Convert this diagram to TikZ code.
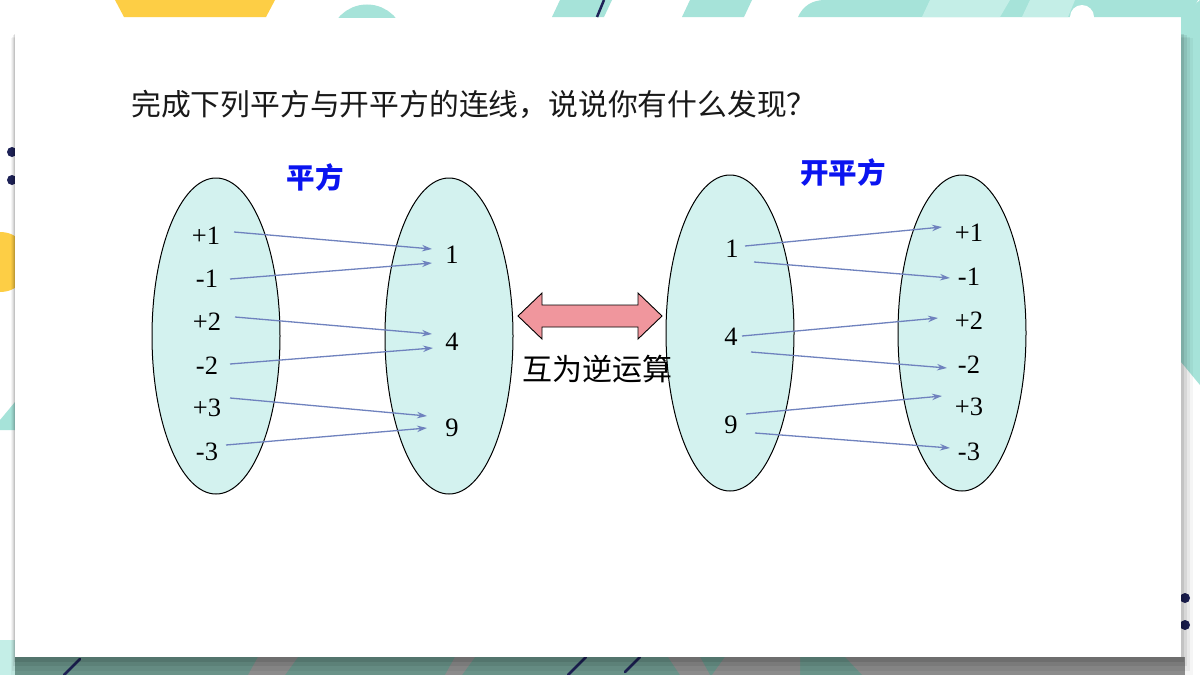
\documentclass[tikz,border=0pt]{standalone}
\usepackage{fontspec}
\setmainfont{Liberation Serif}
\newfontfamily\cjk{Noto Sans CJK SC}
\usetikzlibrary{arrows.meta,shapes.geometric}
\definecolor{teal1}{HTML}{A6E3D9}
\definecolor{teal2}{HTML}{C4EEE7}
\definecolor{tealdk}{HTML}{6F998F}
\definecolor{graydk}{HTML}{929292}
\definecolor{navy}{HTML}{1E2257}
\definecolor{yel}{HTML}{FDCE45}
\definecolor{setfill}{HTML}{D3F2EF}
\definecolor{conncol}{HTML}{6F82BE}
\definecolor{pinkarrow}{HTML}{F0969D}
\definecolor{headblue}{HTML}{0A14F0}
\tikzset{
  setell/.style={ellipse, draw=black, line width=1pt, fill=setfill, minimum width=128pt, minimum height=316pt, inner sep=0pt},
  num/.style={font=\fontsize{26.5}{28}\selectfont, inner sep=0pt, text=black},
  conn/.style={draw=conncol, line width=1.3pt, -{Stealth[length=10pt,width=6.5pt]}},
  headtxt/.style={font=\cjk\bfseries\fontsize{28.5}{30}\selectfont, text=headblue, inner sep=0pt},
}
\begin{document}
\begin{tikzpicture}[x=1pt,y=-1pt]
\useasboundingbox (0,0) rectangle (1200,675);
% background
\fill[white] (0,0) rectangle (1200,675);
% top decorations
\fill[yel] (115,0) -- (275,0) -- (266,17) -- (124,17) -- cycle;
\begin{scope}
  \clip (0,0) rectangle (1200,17);
  \draw[teal1, line width=15pt] (367,42) circle (30);
  \fill[teal1] (560,0) -- (612,0) -- (604,17) -- (552,17) -- cycle;
  \fill[teal1] (690,0) -- (752,0) -- (744,17) -- (682,17) -- cycle;
  \fill[teal1] (798,17) .. controls (803,6) and (812,0) .. (825,0) -- (1200,0) -- (1200,17) -- cycle;
  \fill[teal2] (930,0) -- (1010,0) -- (1000,17) -- (922,17) -- cycle;
  \fill[teal2] (1030,0) -- (1075,0) -- (1068,17) -- (1022,17) -- cycle;
  \fill[white] (1082,17) circle (12);
  \draw[white, line width=3pt] (1200,0) -- (1190,17);
\end{scope}
\draw[navy, line width=2.5pt] (604,0) -- (597,17);
\fill[teal1] (1181,17) -- (1200,0) -- (1200,385) -- (1181,362) -- cycle;
\fill[navy] (12,152) circle (5);
\fill[navy] (12,180) circle (5);
\fill[yel] (0,262) circle (30);
\fill[teal1] (0,420) -- (15,402) -- (15,430) -- (0,430) -- cycle;
\fill[teal2] (0,640) rectangle (15,675);
\fill[navy] (1185,598) circle (5);
\fill[navy] (1185,625) circle (5);
% bottom strip (under shadow)
\fill[tealdk] (15,657) rectangle (800,675);
\fill[graydk] (800,657) rectangle (1185,675);
\fill[tealdk] (800,657) -- (845,657) -- (862,675) -- (800,675) -- cycle;
\fill[graydk] (258,657) -- (298,657) -- (285,675) -- (248,675) -- cycle;
\fill[graydk] (455,657) -- (475,657) -- (462,675) -- (445,675) -- cycle;
\fill[graydk] (668,657) -- (700,657) -- (710,675) -- (680,675) -- cycle;
\fill[graydk] (725,657) -- (800,657) -- (800,675) -- (712,675) -- cycle;
\draw[navy, line width=2.5pt, line cap=round] (80,659) -- (64,675);
\draw[navy, line width=2.5pt, line cap=round] (586,657) -- (568,675);
\draw[navy, line width=2.5pt, line cap=round] (640,657) -- (625,672);
% card shadow
\foreach \o/\a in {12/0.04,9/0.05,6/0.07,3/0.09}{
  \fill[black, opacity=\a] (15-\o*0.3,32+\o*0.5) rectangle (1181+\o,657+\o*1.5);
}
\fill[white] (15,32) rectangle (1181,657);
% title
\node[font=\cjk\fontsize{29.8}{31}\selectfont, anchor=west, inner sep=0pt, text={black!90}] (title) at (131,104) {完成下列平方与开平方的连线，说说你有什么发现？};
% sets
\node[setell] (A) at (216,336) {};
\node[setell] (B) at (449,336) {};
\node[setell] (C) at (730,333) {};
\node[setell] (D) at (962,333) {};
\node[headtxt] (hA) at (315,177) {平方};
\node[headtxt] (hB) at (843,172) {开平方};
% left numbers
\node[num] (p1) at (206,236) {+1};
\node[num] (m1) at (207,279) {-1};
\node[num] (p2) at (207,322) {+2};
\node[num] (m2) at (207,366) {-2};
\node[num] (p3) at (207,408) {+3};
\node[num] (m3) at (207,452) {-3};
\node[num] (s1) at (452,255) {1};
\node[num] (s4) at (452,342) {4};
\node[num] (s9) at (452,428) {9};
% right numbers
\node[num] (r1) at (732,249) {1};
\node[num] (r4) at (731,337) {4};
\node[num] (r9) at (731,425) {9};
\node[num] (q1) at (969,233) {+1};
\node[num] (n1) at (969,277) {-1};
\node[num] (q2) at (969,321) {+2};
\node[num] (n2) at (969,365) {-2};
\node[num] (q3) at (969,407) {+3};
\node[num] (n3) at (969,452) {-3};
% connectors: squaring
\draw[conn] ([shift={(28,-4)}]p1.center) -- ([shift={(-20,-6)}]s1.center);
\draw[conn] ([shift={(23,0)}]m1.center) -- ([shift={(-20,8)}]s1.center);
\draw[conn] ([shift={(28,-5)}]p2.center) -- ([shift={(-20,-8)}]s4.center);
\draw[conn] ([shift={(23,-2)}]m2.center) -- ([shift={(-19,6)}]s4.center);
\draw[conn] ([shift={(23,-10)}]p3.center) -- ([shift={(-25,-12)}]s9.center);
\draw[conn] ([shift={(19,-7)}]m3.center) -- ([shift={(-25,0)}]s9.center);
% connectors: square roots
\draw[conn] ([shift={(13,-3)}]r1.center) -- ([shift={(-27,-6)}]q1.center);
\draw[conn] ([shift={(22,13)}]r1.center) -- ([shift={(-19,1)}]n1.center);
\draw[conn] ([shift={(11,-1)}]r4.center) -- ([shift={(-31,-3)}]q2.center);
\draw[conn] ([shift={(20,15)}]r4.center) -- ([shift={(-22,3)}]n2.center);
\draw[conn] ([shift={(15,-11)}]r9.center) -- ([shift={(-27,-11)}]q3.center);
\draw[conn] ([shift={(24,8)}]r9.center) -- ([shift={(-19,-4)}]n3.center);
% double arrow
\draw[black, line width=0.9pt, fill=pinkarrow, line join=miter]
  (518,316) -- (542,293) -- (542,305) -- (638,305) -- (638,293) -- (662,316)
  -- (638,339) -- (638,327) -- (542,327) -- (542,339) -- cycle;
\node[font=\cjk\fontsize{30}{32}\selectfont, inner sep=0pt, text=black] (inv) at (597,369) {互为逆运算};
\end{tikzpicture}
\end{document}
